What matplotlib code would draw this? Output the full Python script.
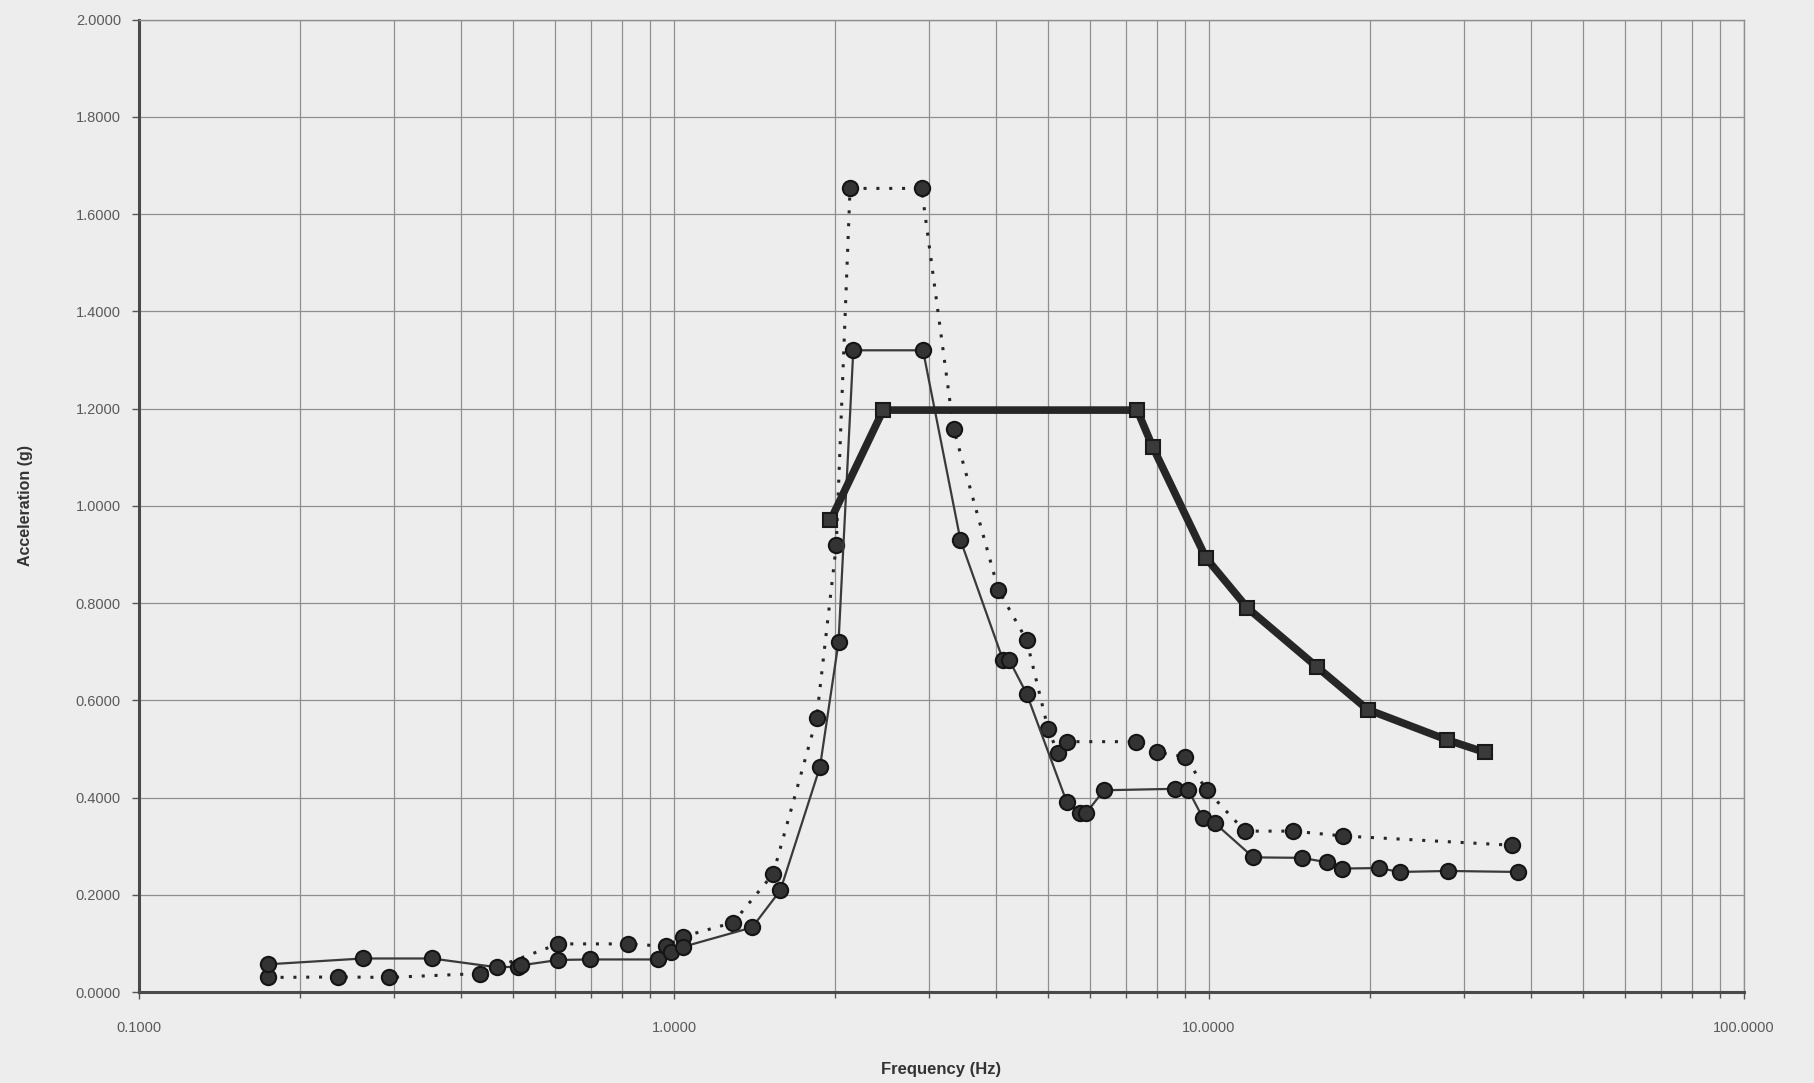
#!/usr/bin/env python3
"""Response spectra vs. required envelope, acceleration (g) over frequency (Hz)."""

import matplotlib

matplotlib.use("Agg")
import matplotlib.pyplot as plt  # noqa: E402
from matplotlib.ticker import FixedLocator, FormatStrFormatter, LogLocator, NullFormatter  # noqa: E402

# Test response spectrum, first run (solid line)
TRS_A_FREQ = [0.174, 0.262, 0.353, 0.466, 0.511, 0.518, 0.608, 0.698, 0.935,
              0.985, 1.04, 1.40, 1.58, 1.874, 2.03, 2.163, 2.92, 3.43, 4.12,
              4.23, 4.56, 5.42, 5.74, 5.90, 6.36, 8.63, 9.14, 9.75, 10.26,
              12.1, 14.9, 16.6, 17.7, 20.8, 22.7, 28.0, 37.8]
TRS_A_ACC = [0.057, 0.069, 0.069, 0.051, 0.052, 0.055, 0.066, 0.067, 0.067,
             0.082, 0.093, 0.133, 0.209, 0.463, 0.720, 1.320, 1.320, 0.930, 0.683,
             0.683, 0.614, 0.391, 0.369, 0.369, 0.415, 0.418, 0.416, 0.357, 0.347,
             0.277, 0.276, 0.267, 0.254, 0.255, 0.247, 0.249, 0.247]

# Test response spectrum, second run (dotted line)
TRS_B_FREQ = [0.174, 0.2355, 0.293, 0.433, 0.608, 0.821, 0.968, 1.04, 1.29,
              1.532, 1.847, 2.01, 2.133, 2.902, 3.33, 4.04, 4.56, 5.0, 5.22,
              5.42, 7.30, 8.0, 9.02, 9.9, 11.67, 14.36, 17.8, 36.8]
TRS_B_ACC = [0.030, 0.031, 0.030, 0.038, 0.099, 0.099, 0.094, 0.114, 0.143,
             0.243, 0.563, 0.919, 1.653, 1.653, 1.159, 0.827, 0.724, 0.542, 0.491,
             0.515, 0.515, 0.493, 0.484, 0.415, 0.331, 0.331, 0.321, 0.302]

# Required response spectrum envelope (heavy line)
RRS_FREQ = [1.96, 2.46, 7.34, 7.85, 9.87, 11.8, 15.9, 19.8, 27.8, 32.8]
RRS_ACC = [0.970, 1.197, 1.197, 1.121, 0.893, 0.790, 0.669, 0.581, 0.519, 0.493]

BG = "#ededed"
INK = "#262626"
GRID = "#8f8f8f"
FONT = ["Liberation Sans", "DejaVu Sans"]

fig = plt.figure(figsize=(18.15, 10.83), dpi=100, facecolor=BG)
ax = fig.add_axes([0.0766, 0.084, 0.8843, 0.8978], facecolor=BG)

ax.set_xscale("log")
ax.set_xlim(0.1, 100)
ax.set_ylim(0, 2.0)

ax.xaxis.set_major_locator(LogLocator(base=10))
ax.xaxis.set_minor_locator(LogLocator(base=10, subs=range(2, 10)))
ax.xaxis.set_major_formatter(FormatStrFormatter("%.4f"))
ax.xaxis.set_minor_formatter(NullFormatter())
ax.yaxis.set_major_locator(FixedLocator([i * 0.2 for i in range(11)]))
ax.yaxis.set_major_formatter(FormatStrFormatter("%.4f"))

ax.grid(True, which="both", axis="x", color=GRID, linewidth=0.9)
ax.grid(True, which="major", axis="y", color=GRID, linewidth=0.9)
ax.set_axisbelow(True)

for side in ("top", "right"):
    ax.spines[side].set_color(GRID)
    ax.spines[side].set_linewidth(1.0)
for side in ("left", "bottom"):
    ax.spines[side].set_color("#4a4a4a")
    ax.spines[side].set_linewidth(2.2)

ax.tick_params(axis="both", which="major", length=5, width=1, color="#555555",
               labelsize=10.5, labelcolor="#5a5a5a")
ax.tick_params(axis="x", which="minor", length=4, width=1, color="#555555")
ax.tick_params(axis="x", which="major", pad=16)
ax.tick_params(axis="y", which="major", pad=8)
for lbl in ax.get_xticklabels() + ax.get_yticklabels():
    lbl.set_family(FONT)

ax.plot(TRS_B_FREQ, TRS_B_ACC, color=INK, linewidth=2.2, linestyle=(0, (1, 3.2)),
        marker="o", markersize=11, markerfacecolor="#333333",
        markeredgecolor="#151515", markeredgewidth=1.5, zorder=3)
ax.plot(TRS_A_FREQ, TRS_A_ACC, color="#3a3a3a", linewidth=1.6, linestyle="-",
        marker="o", markersize=11, markerfacecolor="#333333",
        markeredgecolor="#151515", markeredgewidth=1.5, zorder=4)
ax.plot(RRS_FREQ, RRS_ACC, color=INK, linewidth=5.5, linestyle="-",
        marker="s", markersize=9.5, markerfacecolor="#3a3a3a",
        markeredgecolor="#1a1a1a", markeredgewidth=1.5, zorder=5)

ax.set_xlabel("Frequency (Hz)", fontsize=12, fontweight="bold", color="#333333",
              family=FONT, labelpad=19)
ax.set_ylabel("Acceleration (g)", fontsize=11.5, fontweight="bold", color="#333333",
              family=FONT)
ax.yaxis.set_label_coords(-0.066, 0.5)

fig.savefig("out.png", dpi=100, facecolor=BG)
